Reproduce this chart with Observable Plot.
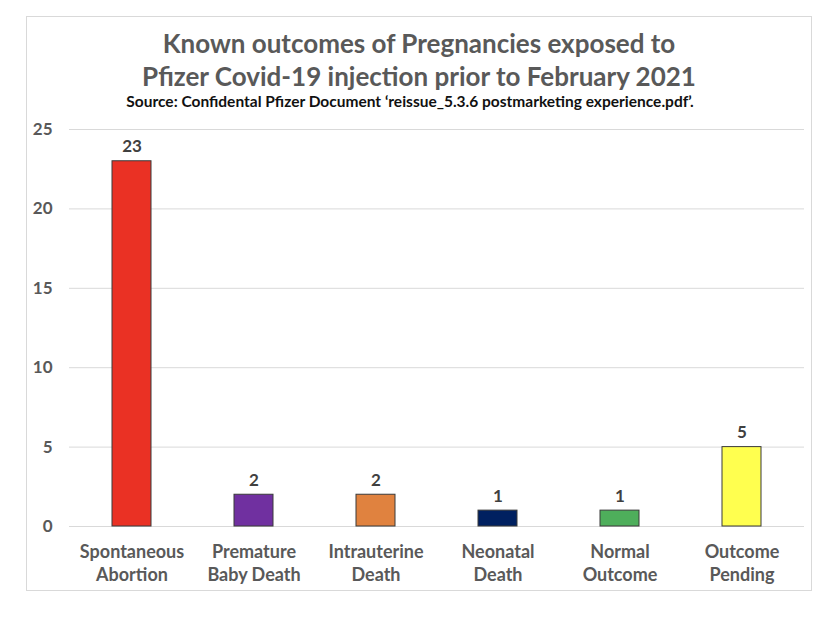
<!DOCTYPE html>
<html>
<head>
<meta charset="utf-8">
<script src="https://cdn.jsdelivr.net/npm/d3@7"></script>
<script src="https://cdn.jsdelivr.net/npm/@observablehq/plot@0.6"></script>
<style>
  html, body { margin: 0; padding: 0; background: #fff; }
  #wrap { position: relative; width: 840px; height: 618px; overflow: hidden; font-family: Lato, "Open Sans", sans-serif; }
  #frame { position: absolute; left: 26px; top: 16px; width: 786px; height: 575px; border: 1px solid #d9d9d9; box-sizing: border-box; }
  #chart { position: absolute; left: 0; top: 0; }
  .t { position: absolute; left: 26px; width: 786px; text-align: center; font-weight: bold; white-space: nowrap; }
  #t1 { top: 26px; font-size: 26px; color: #595959; line-height: 34px; }
  #t2 { top: 59px; font-size: 26px; color: #595959; line-height: 34px; }
  #sub { top: 92px; left: 17px; font-size: 15.5px; color: #111; line-height: 18px; }
</style>
</head>
<body>
<div id="wrap">
  <div id="frame"></div>
  <div id="chart"></div>
  <div class="t" id="t1">Known outcomes of Pregnancies exposed to</div>
  <div class="t" id="t2">Pfizer Covid-19 injection prior to February 2021</div>
  <div class="t" id="sub">Source: Confidental Pfizer Document ‘reissue_5.3.6 postmarketing experience.pdf’.</div>
</div>
<script>
const categories = ["Spontaneous Abortion", "Premature Baby Death", "Intrauterine Death", "Neonatal Death", "Normal Outcome", "Outcome Pending"];
const values = [23, 2, 2, 1, 1, 5];
const colors = ["#EA3124", "#7030A0", "#E0823F", "#002060", "#4EAE5B", "#FFFF4F"];
const yTicks = [0, 5, 10, 15, 20, 25];

const data = categories.map((c, i) => ({category: c, value: values[i], color: colors[i]}));
const twoLine = s => { const k = s.indexOf(" "); return s.slice(0, k) + "\n" + s.slice(k + 1); };

const chart = Plot.plot({
  width: 840,
  height: 618,
  marginTop: 129,
  marginBottom: 92,
  marginLeft: 69,
  marginRight: 36,
  style: {fontFamily: "Lato, 'Open Sans', sans-serif", background: "transparent"},
  x: {domain: categories, paddingInner: 0.68, paddingOuter: 0.34, label: null},
  y: {domain: [0, 25], ticks: yTicks, label: null},
  marks: [
    Plot.gridY(yTicks, {stroke: "#d9d9d9", strokeOpacity: 1, strokeWidth: 1}),
    Plot.axisY(yTicks, {tickSize: 0, tickPadding: 17, fontSize: 17, fontWeight: "bold", fill: "#595959", label: null}),
    Plot.axisX({tickSize: 0, tickPadding: 14, fontSize: 18, fontWeight: "bold", fill: "#595959", tickFormat: twoLine, lineHeight: 1.33, label: null}),
    Plot.barY(data, {x: "category", y: "value", fill: "color", stroke: "#3a3a3a", strokeWidth: 1}),
    Plot.text(data, {x: "category", y: "value", text: d => String(d.value), lineAnchor: "bottom", dy: -9, fontSize: 17, fontWeight: "bold", fill: "#404040"})
  ]
});
document.getElementById("chart").appendChild(chart);
</script>
</body>
</html>
